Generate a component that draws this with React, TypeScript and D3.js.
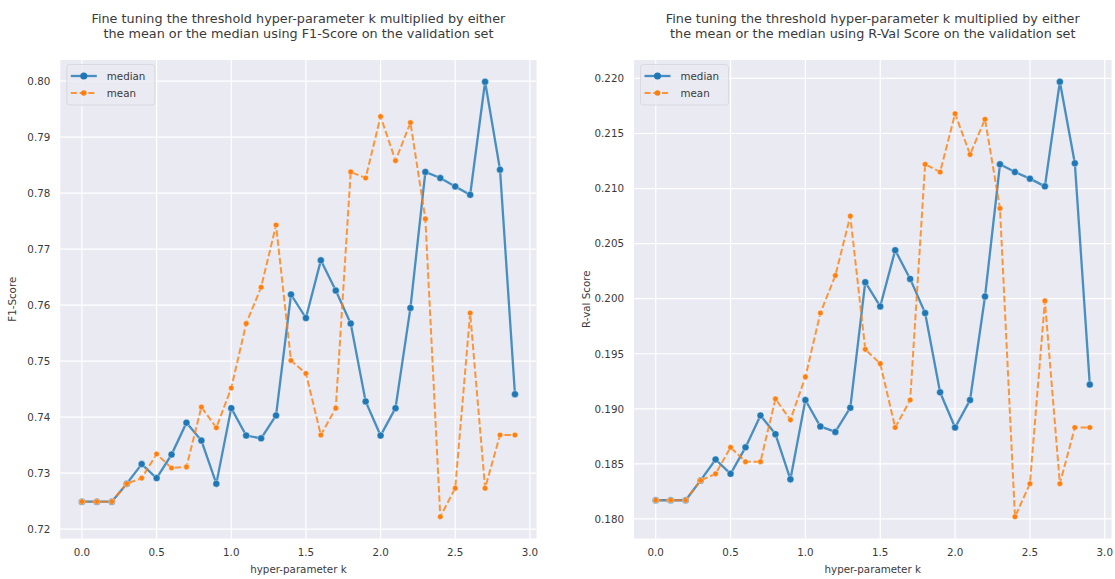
import React from "react";
import * as d3 from "d3";

const kValues = [0.0, 0.1, 0.2, 0.3, 0.4, 0.5, 0.6, 0.7, 0.8, 0.9, 1.0, 1.1, 1.2, 1.3, 1.4, 1.5, 1.6, 1.7, 1.8, 1.9, 2.0, 2.1, 2.2, 2.3, 2.4, 2.5, 2.6, 2.7, 2.8, 2.9];

const f1Median = [0.7249, 0.7249, 0.7249, 0.7281, 0.7316, 0.7291, 0.7333, 0.739, 0.7358, 0.7281, 0.7416, 0.7367, 0.7362, 0.7403, 0.7619, 0.7577, 0.768, 0.7626, 0.7567, 0.7428, 0.7367, 0.7416, 0.7595, 0.7838, 0.7827, 0.7812, 0.7797, 0.7999, 0.7842, 0.7441];
const f1Mean = [0.7249, 0.7249, 0.7249, 0.7281, 0.7291, 0.7334, 0.7309, 0.7311, 0.7418, 0.7381, 0.7452, 0.7567, 0.7632, 0.7743, 0.7501, 0.7478, 0.7368, 0.7416, 0.7838, 0.7827, 0.7937, 0.7858, 0.7926, 0.7754, 0.7222, 0.7273, 0.7586, 0.7273, 0.7368, 0.7368];

const rvalMedian = [0.1817, 0.1817, 0.1817, 0.1835, 0.1854, 0.1841, 0.1865, 0.1894, 0.1877, 0.1836, 0.1908, 0.1884, 0.1879, 0.1901, 0.2015, 0.1993, 0.2044, 0.2018, 0.1987, 0.1915, 0.1883, 0.1908, 0.2002, 0.2122, 0.2115, 0.2109, 0.2102, 0.2197, 0.2123, 0.1922];
const rvalMean = [0.1817, 0.1817, 0.1817, 0.1835, 0.1841, 0.1865, 0.1852, 0.1852, 0.1909, 0.189, 0.1929, 0.1987, 0.2021, 0.2075, 0.1954, 0.1941, 0.1883, 0.1908, 0.2122, 0.2115, 0.2168, 0.2131, 0.2163, 0.2082, 0.1802, 0.1832, 0.1998, 0.1832, 0.1883, 0.1883];

const xTicks = [0.0, 0.5, 1.0, 1.5, 2.0, 2.5, 3.0];
const f1Ticks = [0.72, 0.73, 0.74, 0.75, 0.76, 0.77, 0.78, 0.79, 0.8];
const rvalTicks = [0.18, 0.185, 0.19, 0.195, 0.2, 0.205, 0.21, 0.215, 0.22];

const seriesNames = ["median", "mean"];
const seriesColors = ["#1f77b4", "#ff7f0e"];

const FONT = "'DejaVu Sans', 'Liberation Sans', Arial, sans-serif";
const TEXT = "#3a3a3a";

type PanelProps = {
  left: number;
  right: number;
  top: number;
  bottom: number;
  titleLines: string[];
  yLabel: string;
  median: number[];
  mean: number[];
  yTicks: number[];
  yFmt: string;
};

function padExtent(vals: number[]): [number, number] {
  const [lo, hi] = d3.extent(vals) as [number, number];
  const m = (hi - lo) * 0.05;
  return [lo - m, hi + m];
}

function Panel(p: PanelProps) {
  const x = d3.scaleLinear().domain(padExtent(kValues)).range([p.left, p.right]);
  const y = d3.scaleLinear().domain(padExtent([...p.median, ...p.mean])).range([p.bottom, p.top]);
  const fmtX = d3.format(".1f");
  const fmtY = d3.format(p.yFmt);
  const line = d3
    .line<number>()
    .x((_, i) => x(kValues[i]))
    .y((d) => y(d));
  const series = [p.median, p.mean];
  const cx = (p.left + p.right) / 2;
  const cy = (p.top + p.bottom) / 2;
  const lx = p.left + 6.5;
  const ly = p.top + 4.5;
  return (
    <g>
      <rect x={p.left} y={p.top} width={p.right - p.left} height={p.bottom - p.top} fill="#eaeaf2" />
      {xTicks.map((t) => (
        <line key={"gx" + t} x1={x(t)} x2={x(t)} y1={p.top} y2={p.bottom} stroke="#fff" strokeWidth={1.2} />
      ))}
      {p.yTicks.map((t) => (
        <line key={"gy" + t} x1={p.left} x2={p.right} y1={y(t)} y2={y(t)} stroke="#fff" strokeWidth={1.2} />
      ))}
      {xTicks.map((t) => (
        <text key={"tx" + t} x={x(t)} y={p.bottom + 17} textAnchor="middle" fontSize={10.3} fill={TEXT} fontFamily={FONT}>
          {fmtX(t)}
        </text>
      ))}
      {p.yTicks.map((t) => (
        <text key={"ty" + t} x={p.left - 10} y={y(t) + 3.8} textAnchor="end" fontSize={10.3} fill={TEXT} fontFamily={FONT}>
          {fmtY(t)}
        </text>
      ))}
      <text x={cx} y={p.bottom + 34.5} textAnchor="middle" fontSize={10.3} fill={TEXT} fontFamily={FONT}>
        hyper-parameter k
      </text>
      <text
        x={0}
        y={0}
        transform={`translate(${p.left - 44},${cy}) rotate(-90)`}
        textAnchor="middle"
        fontSize={10.3}
        fill={TEXT}
        fontFamily={FONT}
      >
        {p.yLabel}
      </text>
      {p.titleLines.map((s, i) => (
        <text key={"tt" + i} x={cx} y={22.5 + i * 15} textAnchor="middle" fontSize={12.8} fill={TEXT} fontFamily={FONT}>
          {s}
        </text>
      ))}
      {series.map((vals, si) => (
        <g key={"s" + si}>
          <path
            d={line(vals) || ""}
            fill="none"
            stroke={seriesColors[si]}
            strokeWidth={si === 0 ? 2.3 : 2}
            strokeDasharray={si === 0 ? undefined : "6.5,2.8"}
            strokeOpacity={0.8}
          />
          {vals.map((v, i) => (
            <circle
              key={i}
              cx={x(kValues[i])}
              cy={y(v)}
              r={si === 0 ? 3.5 : 2.8}
              fill={seriesColors[si]}
              stroke="#fff"
              strokeWidth={0.4}
            />
          ))}
        </g>
      ))}
      <rect x={lx} y={ly} width={88} height={40.5} rx={3} fill="#eaeaf2" fillOpacity={0.8} stroke="#d4d4dc" strokeWidth={0.8} />
      {seriesNames.map((name, si) => (
        <g key={"lg" + si}>
          <line
            x1={lx + 4}
            x2={lx + 30}
            y1={ly + 11.5 + si * 17}
            y2={ly + 11.5 + si * 17}
            stroke={seriesColors[si]}
            strokeWidth={si === 0 ? 2.3 : 2}
            strokeDasharray={si === 0 ? undefined : "6,2.8"}
            strokeOpacity={0.8}
          />
          <circle cx={lx + 17} cy={ly + 11.5 + si * 17} r={si === 0 ? 3.5 : 2.8} fill={seriesColors[si]} />
          <text x={lx + 40} y={ly + 15 + si * 17} fontSize={10.3} fill={TEXT} fontFamily={FONT}>
            {name}
          </text>
        </g>
      ))}
    </g>
  );
}

export default function App() {
  return (
    <div>
      <style>{"body{margin:0;background:#fff}"}</style>
      <svg width={1115} height={579} style={{ display: "block" }}>
        <rect width={1115} height={579} fill="#fff" />
        <Panel
          left={60.3}
          right={536.6}
          top={60}
          bottom={538.5}
          titleLines={[
            "Fine tuning the threshold hyper-parameter k multiplied by either",
            "the mean or the median using F1-Score on the validation set",
          ]}
          yLabel="F1-Score"
          median={f1Median}
          mean={f1Mean}
          yTicks={f1Ticks}
          yFmt=".2f"
        />
        <Panel
          left={634}
          right={1111.5}
          top={60}
          bottom={538.5}
          titleLines={[
            "Fine tuning the threshold hyper-parameter k multiplied by either",
            "the mean or the median using R-Val Score on the validation set",
          ]}
          yLabel="R-val Score"
          median={rvalMedian}
          mean={rvalMean}
          yTicks={rvalTicks}
          yFmt=".3f"
        />
      </svg>
    </div>
  );
}
